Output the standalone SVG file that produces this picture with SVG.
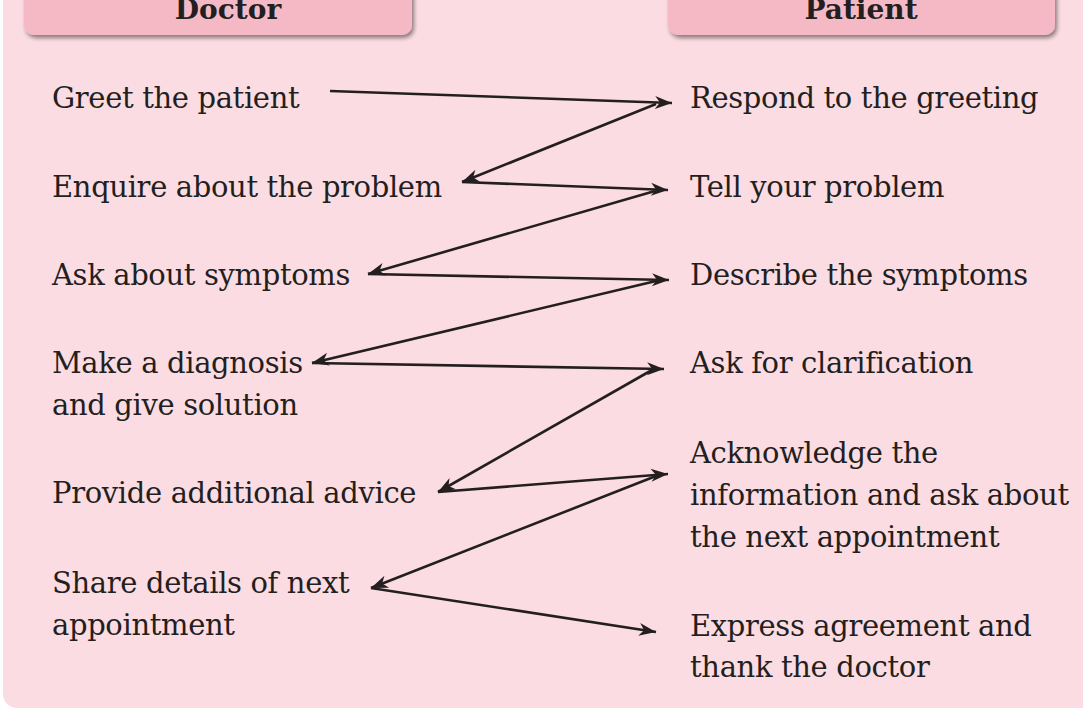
<svg xmlns="http://www.w3.org/2000/svg" width="1083" height="711" viewBox="0 0 1083 711">
<defs>
<style>
.t{font-family:"DejaVu Serif","Liberation Serif",serif;font-size:29px;letter-spacing:-0.35px;fill:#231f20}
.h{font-family:"DejaVu Serif","Liberation Serif",serif;font-size:28px;font-weight:bold;fill:#231f20;text-anchor:middle}
.hdr{fill:#f5b9c6}
.c{fill:none;stroke:#231f20;stroke-width:2.6}
</style>
<filter id="sh" x="-10%" y="-30%" width="120%" height="180%">
<feDropShadow dx="2" dy="3" stdDeviation="2" flood-color="#000" flood-opacity="0.45"/>
</filter>
<marker id="ah" markerUnits="userSpaceOnUse" markerWidth="24" markerHeight="16" viewBox="-18 -8 20 16" refX="0" refY="0" orient="auto">
<path d="M0,0 L-17,-6.5 L-12,0 L-17,6.5 Z" fill="#231f20"/>
</marker>
</defs>
<rect x="0" y="0" width="1083" height="711" fill="#ffffff"/>
<rect x="3" y="-30" width="1110" height="738" rx="14" fill="#fbdce2"/>
<g id="header-doctor">
<rect class="hdr" x="24" y="-20" width="388" height="55" rx="10" filter="url(#sh)"/>
<text class="h" x="228" y="19">Doctor</text>
</g>
<g id="header-patient">
<rect class="hdr" x="668" y="-20" width="387" height="55" rx="10" filter="url(#sh)"/>
<text class="h" x="861" y="19">Patient</text>
</g>
<g id="d1"><text class="t" x="52" y="108">Greet the patient</text></g>
<g id="d2"><text class="t" x="52" y="197">Enquire about the problem</text></g>
<g id="d3"><text class="t" x="52" y="285">Ask about symptoms</text></g>
<g id="d4"><text class="t" x="52" y="373">Make a diagnosis</text><text class="t" x="52" y="415">and give solution</text></g>
<g id="d5"><text class="t" x="52" y="503">Provide additional advice</text></g>
<g id="d6"><text class="t" x="52" y="593">Share details of next</text><text class="t" x="52" y="635">appointment</text></g>
<g id="p1"><text class="t" x="690" y="108">Respond to the greeting</text></g>
<g id="p2"><text class="t" x="690" y="197">Tell your problem</text></g>
<g id="p3"><text class="t" x="690" y="285">Describe the symptoms</text></g>
<g id="p4"><text class="t" x="690" y="373">Ask for clarification</text></g>
<g id="p5"><text class="t" x="690" y="463">Acknowledge the</text><text class="t" x="690" y="505">information and ask about</text><text class="t" x="690" y="547">the next appointment</text></g>
<g id="p6"><text class="t" x="690" y="636">Express agreement and</text><text class="t" x="690" y="677">thank the doctor</text></g>
<g id="connectors">
<line class="c" x1="330" y1="91" x2="672" y2="103" marker-end="url(#ah)"/>
<line class="c" x1="656" y1="104" x2="462" y2="182" marker-end="url(#ah)"/>
<line class="c" x1="462" y1="182" x2="668" y2="190" marker-end="url(#ah)"/>
<line class="c" x1="655" y1="191" x2="368" y2="274" marker-end="url(#ah)"/>
<line class="c" x1="368" y1="274" x2="669" y2="280" marker-end="url(#ah)"/>
<line class="c" x1="656" y1="281" x2="312" y2="363" marker-end="url(#ah)"/>
<line class="c" x1="312" y1="363" x2="664" y2="369" marker-end="url(#ah)"/>
<line class="c" x1="652" y1="370" x2="438" y2="492" marker-end="url(#ah)"/>
<line class="c" x1="438" y1="492" x2="668" y2="474" marker-end="url(#ah)"/>
<line class="c" x1="656" y1="476" x2="371" y2="588" marker-end="url(#ah)"/>
<line class="c" x1="371" y1="588" x2="656" y2="632" marker-end="url(#ah)"/>
</g>
</svg>
